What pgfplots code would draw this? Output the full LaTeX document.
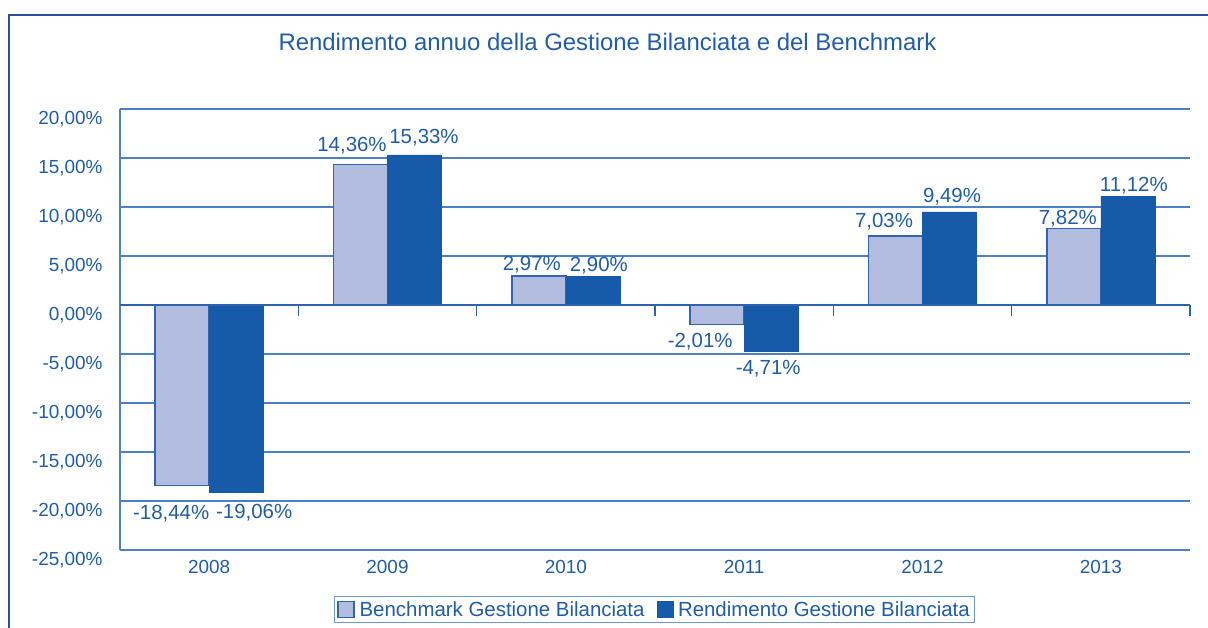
\documentclass[border=0pt]{standalone}
\usepackage{fontspec}
\setmainfont{Liberation Sans}
\usepackage{pgfplots}
\pgfplotsset{compat=1.18}
\usepackage{pgfplotstable}
\definecolor{txtblue}{RGB}{31,93,170}
\definecolor{rendblue}{RGB}{21,91,170}
\definecolor{benchfill}{RGB}{177,188,223}
\definecolor{benchdraw}{RGB}{50,100,176}
\definecolor{gridblue}{RGB}{74,128,196}
\definecolor{zeroblue}{RGB}{45,98,174}
\definecolor{frameblue}{RGB}{43,78,162}

\pgfplotstableread{
x y
0 -18.44
1 14.36
2 2.97
3 -2.01
4 7.03
5 7.82
}\bench

\pgfplotstableread{
x y
0 -19.06
1 15.33
2 2.90
3 -4.71
4 9.49
5 11.12
}\rend

% label: x, y, xshift(bp, from category centre), yshift(bp, from bar end), text
\newcommand\lbl[5]{%
  \addplot[forget plot, draw=none, mark=none, nodes near coords, point meta=explicit symbolic,
    every node near coord/.append style={anchor=center, xshift=#3bp, yshift=#4bp,
      text=txtblue, font=\fontsize{20.5}{24}\selectfont, inner sep=0pt}]
    coordinates {(#1,#2) [#5]};}

\begin{document}
\begin{tikzpicture}[x=1bp,y=1bp]
\path[use as bounding box] (0,0) rectangle (1208,628);
\draw[frameblue, line width=1.5bp] (9,-2) -- (9,613) -- (1210,613);
\node[txtblue, font=\fontsize{24}{28}\selectfont, anchor=base] at (607.5,577) {Rendimento annuo della Gestione Bilanciata e del Benchmark};
\begin{axis}[
  at={(120bp,78bp)}, anchor=south west,
  scale only axis, width=1070bp, height=441bp,
  xmin=-0.5, xmax=5.5, ymin=-25, ymax=20,
  axis lines*=left,
  axis line style={gridblue, line width=1.2bp},
  xtick={0,1,2,3,4,5},
  xticklabels={2008,2009,2010,2011,2012,2013},
  ytick={-25,-20,-15,-10,-5,0,5,10,15,20},
  yticklabels={-25{,}00\%,-20{,}00\%,-15{,}00\%,-10{,}00\%,-5{,}00\%,0{,}00\%,5{,}00\%,10{,}00\%,15{,}00\%,20{,}00\%},
  major tick length=0pt,
  ymajorgrids,
  grid style={gridblue, line width=1.2bp},
  tick label style={text=txtblue, font=\fontsize{19}{22}\selectfont},
  xticklabel style={yshift=-7bp},
  yticklabel style={xshift=-14bp, yshift=-10bp},
  legend columns=2,
  legend style={at={(0.4995,-0.1349)}, anchor=center, draw=gridblue!80, line width=1bp,
    font=\fontsize{20.5}{24}\selectfont, text=txtblue, inner sep=2.5bp,
    /tikz/every even column/.append style={column sep=10bp}},
  legend image code/.code={\draw[#1] (0bp,-8bp) rectangle (16bp,8bp); \path (19bp,0bp);},
  clip=false,
]
\addplot[ybar, bar width=54bp, bar shift=-27bp, fill=benchfill, draw=benchdraw, line width=1.5bp]
  table[x=x,y=y]{\bench};
\addlegendentry{Benchmark Gestione Bilanciata}
\addplot[ybar, bar width=54bp, bar shift=27bp, fill=rendblue, draw=rendblue, line width=0.5bp]
  table[x=x,y=y]{\rend};
\addlegendentry{Rendimento Gestione Bilanciata}
\draw[zeroblue, line width=1.5bp] (axis cs:-0.5,0) -- (axis cs:5.5,0);
\pgfplotsinvokeforeach{0.5,1.5,2.5,3.5,4.5,5.5}{
  \draw[zeroblue, line width=1.5bp] (axis cs:#1,0) -- ([yshift=-11bp]axis cs:#1,0);
}
% benchmark labels
\lbl{0}{-18.44}{-38}{-28}{-18,44\%}
\lbl{1}{14.36}{-35.5}{19}{14,36\%}
\lbl{2}{2.97}{-34}{11}{2,97\%}
\lbl{3}{-2.01}{-44}{-17}{-2,01\%}
\lbl{4}{7.03}{-38.5}{14}{7,03\%}
\lbl{5}{7.82}{-33}{10}{7,82\%}
% rendimento labels
\lbl{0}{-19.06}{45}{-21}{-19,06\%}
\lbl{1}{15.33}{36.5}{17}{15,33\%}
\lbl{2}{2.90}{33}{11}{2,90\%}
\lbl{3}{-4.71}{24}{-18}{-4,71\%}
\lbl{4}{9.49}{29.5}{15}{9,49\%}
\lbl{5}{11.12}{33}{10}{11,12\%}
\end{axis}
\end{tikzpicture}
\end{document}
